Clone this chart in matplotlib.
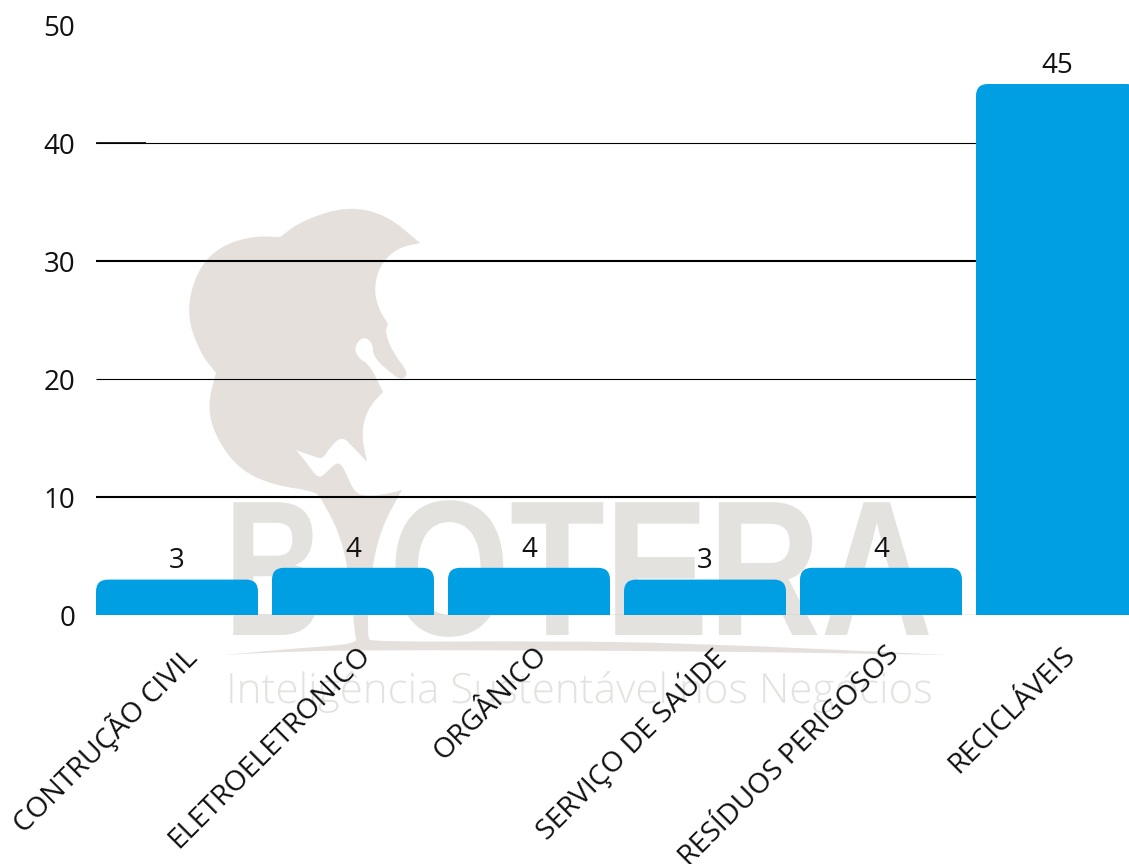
"""
Bar chart of waste quantity per category, with the company logo as a watermark.
"""
import matplotlib
matplotlib.use("Agg")
import matplotlib.pyplot as plt
from matplotlib.patches import PathPatch
from matplotlib.path import Path
from matplotlib.patheffects import AbstractPathEffect
from matplotlib.transforms import Affine2D, ScaledTranslation

categories = [
    "CONTRUÇÃO CIVIL",
    "ELETROELETRONICO",
    "ORGÂNICO",
    "SERVIÇO DE SAÚDE",
    "RESÍDUOS PERIGOSOS",
    "RECICLÁVEIS",
]
values = [3, 4, 4, 3, 4, 45]
y_ticks = [0, 10, 20, 30, 40, 50]

# grid lines alternate between thin and thick in the source picture
grid_levels = [10, 20, 30, 40]
grid_widths = [1.5, 0.8, 1.5, 0.8]

BAR_COLOR = "#009fe3"
LOGO_COLOR = "#e6e0dd"
LETTER_COLOR = "#e3e2df"
TEXT_COLOR = "#111111"

W, H = 1129, 864

# logo outline, in image pixels (origin top left), doubled points are corners
logo_outline = [
    (280, 237), (280, 237), (303, 220), (348, 206), (387, 215), (420, 243), (420, 243),
    (397, 248), (380, 265), (374, 288), (378, 308), (388, 324), (388, 324), (385, 332),
    (393, 353), (409, 373), (402, 380), (393, 375), (373, 357), (373, 343), (363, 336),
    (354, 347), (358, 358), (370, 365), (383, 392), (383, 392), (368, 408), (361, 433),
    (367, 462), (367, 462), (353, 447), (342, 436), (330, 447), (323, 459), (315, 457),
    (296, 450), (296, 450), (307, 463), (318, 479), (327, 472), (338, 461), (345, 470),
    (353, 490), (362, 496), (383, 495), (402, 490), (402, 490), (380, 530), (370, 580),
    (367, 637), (372, 642), (540, 641), (690, 643), (948, 655), (948, 655), (690, 651),
    (400, 650), (300, 651), (224, 655), (224, 655), (300, 648), (357, 644), (355, 635),
    (346, 547), (321, 497), (313, 491), (273, 485), (240, 470), (217, 440), (207, 407),
    (216, 373), (216, 373), (200, 353), (186, 313), (197, 270), (220, 246), (253, 236),
]


class SqueezeX(AbstractPathEffect):
    """Narrow a text horizontally, for the condensed letters of the logo."""

    def __init__(self, factor, x0):
        super().__init__()
        self.factor = factor
        self.x0 = x0

    def draw_path(self, renderer, gc, tpath, affine, rgbFace=None):
        squeeze = Affine2D().translate(-self.x0, 0).scale(self.factor, 1).translate(self.x0, 0)
        renderer.draw_path(gc, tpath, affine + squeeze, rgbFace)


def smooth_outline(points):
    """Closed quadratic spline through the midpoints of the outline points."""
    mids = [((a[0] + b[0]) / 2, (a[1] + b[1]) / 2) for a, b in zip(points, points[1:] + points[:1])]
    verts = [mids[-1]]
    codes = [Path.MOVETO]
    for i, ctrl in enumerate(points):
        verts += [ctrl, mids[i]]
        codes += [Path.CURVE3, Path.CURVE3]
    return Path(verts, codes)


def logo_text(x, y, string, factor, **kwargs):
    fig.text(x / W, 1 - y / H, string, zorder=-1, color=LETTER_COLOR,
             path_effects=[SqueezeX(factor, x)], **kwargs)


fig = plt.figure(figsize=(W / 100, H / 100), dpi=100)
plt.rcParams["font.family"] = ["Open Sans", "DejaVu Sans"]

# the last band runs past the right edge of the picture and gets cut off
ax = fig.add_axes([89 / W, 1 - 615 / H, 1056 / W, 590 / H])
ax.patch.set_visible(False)

to_pixels = Affine2D().scale(1, -1).translate(0, H)
fig.add_artist(PathPatch(smooth_outline(logo_outline), facecolor=LOGO_COLOR, edgecolor="none",
                         transform=to_pixels, zorder=-2))

logo_text(224, 635, "B", 0.72, family="Liberation Sans", weight="bold", fontsize=139)
logo_text(389, 635, "OTERA", 0.805, family="Liberation Sans", weight="bold", fontsize=139)
logo_text(226, 703, "Inteligência Sustentável nos Negócios", 1.01,
          family="Open Sans", weight="light", fontsize=30)

bar_width = 162 / 176
px_x = 1 / 176
px_y = 50 / 590
radius = 12


def rounded_bar(center, height):
    left = center - bar_width / 2
    right = center + bar_width / 2
    rx = radius * px_x
    ry = min(radius * px_y, height)
    verts = [
        (left, 0), (left, height - ry), (left, height), (left + rx, height),
        (right - rx, height), (right, height), (right, height - ry), (right, 0),
        (left, 0),
    ]
    codes = [
        Path.MOVETO, Path.LINETO, Path.CURVE3, Path.CURVE3,
        Path.LINETO, Path.CURVE3, Path.CURVE3, Path.LINETO,
        Path.CLOSEPOLY,
    ]
    return Path(verts, codes)


positions = list(range(len(categories)))

for level, lw in zip(grid_levels, grid_widths):
    ax.hlines(level, -bar_width / 2, 5.5, color="black", linewidth=lw, zorder=1)
ax.hlines(40, -bar_width / 2, -bar_width / 2 + 50 * px_x, color="black", linewidth=1.2, zorder=1)
ax.hlines(0, -bar_width / 2, 5.5, color="#b5b5b5", linewidth=1, zorder=1)

for pos, val in zip(positions, values):
    ax.add_patch(PathPatch(rounded_bar(pos, val), facecolor=BAR_COLOR, edgecolor="none", zorder=2))
    ax.annotate(str(val), (pos, val), xytext=(0, 8), textcoords="offset points",
                ha="center", va="baseline", fontsize=20, color=TEXT_COLOR, zorder=3)

ax.set_xlim(-0.5, 5.5)
ax.set_ylim(0, 50)
ax.set_yticks(y_ticks)
ax.set_xticks(positions)
ax.set_xticklabels(categories, rotation=45, ha="right", rotation_mode="anchor")
ax.tick_params(axis="y", length=0, pad=10, labelsize=20, labelcolor=TEXT_COLOR)
ax.tick_params(axis="x", length=0, pad=14, labelsize=20.5, labelcolor=TEXT_COLOR)

shift = ScaledTranslation(4 / 100, -7 / 100, fig.dpi_scale_trans)
for label in ax.get_xticklabels():
    label.set_transform(label.get_transform() + shift)

for side in ax.spines.values():
    side.set_visible(False)

fig.savefig("out.png", dpi=100)
